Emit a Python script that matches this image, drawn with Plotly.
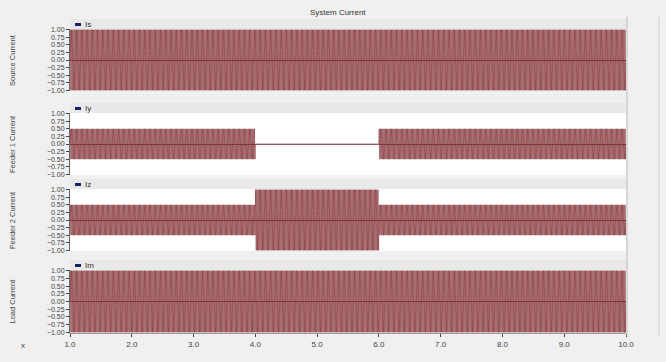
import numpy as np
import plotly.graph_objects as go

# ---- data ----
panel_names = ["Source Current", "Feeder 1 Current", "Feeder 2 Current", "Load Current"]
legend_names = ["Is", "Iy", "Iz", "Im"]
time_breaks = [1.0, 4.0, 6.0, 10.0]          # s, segment boundaries
source_amp = [1.0, 1.0, 1.0]                 # peak per segment
feeder1_amp = [0.5, 0.0, 0.5]
feeder2_amp = [0.5, 1.0, 0.5]
load_amp = [1.0, 1.0, 1.0]
freq_hz = 50.0
sample_step = 0.001
x_ticks = [1.0, 2.0, 3.0, 4.0, 5.0, 6.0, 7.0, 8.0, 9.0, 10.0]
y_ticks = [1.0, 0.75, 0.5, 0.25, 0.0, -0.25, -0.5, -0.75, -1.0]

amps = [source_amp, feeder1_amp, feeder2_amp, load_amp]

t = np.arange(time_breaks[0], time_breaks[-1] + 1e-9, sample_step)
seg = np.clip(np.searchsorted(time_breaks, t, side="right") - 1, 0, len(time_breaks) - 2)
carrier = np.sin(2 * np.pi * freq_hz * t)

W, H = 666, 362
px_x0, px_x1 = 70, 626
panel_px = [(29, 91), (113, 175), (189, 251), (270, 333)]

fig = go.Figure()
shapes = []
annotations = []
for i, (name, lg, a) in enumerate(zip(panel_names, legend_names, amps)):
    y = carrier * np.array(a)[seg]
    ax = "" if i == 0 else str(i + 1)
    fig.add_trace(go.Scatter(
        x=t, y=y, mode="lines",
        line=dict(color="rgba(110,15,22,0.88)", width=0.6),
        xaxis="x" + ax, yaxis="y" + ax, showlegend=False, hoverinfo="skip",
    ))
    top, bot = panel_px[i]
    dom = [1 - bot / H, 1 - top / H]
    fig.layout["yaxis" + ax] = dict(
        domain=dom, range=[-1.02, 1.02], anchor="x" + ax, automargin=False,
        tickvals=y_ticks, tickformat=".2f", ticks="outside", ticklen=3,
        tickfont=dict(size=7, color="#444", family="Arial"),
        showgrid=False, zeroline=True, zerolinecolor="rgba(90,40,40,0.6)", zerolinewidth=0.8,
        showline=True, linecolor="#666", linewidth=1,
    )
    fig.layout["xaxis" + ax] = dict(
        domain=[px_x0 / W, px_x1 / W], range=[1.0, 10.0], anchor="y" + ax, automargin=False,
        tickvals=x_ticks, tickformat=".1f",
        showticklabels=(i == 3), ticks="outside" if i == 3 else "", ticklen=3,
        tickfont=dict(size=8, color="#444", family="Arial"),
        showgrid=False, zeroline=False, showline=(i == 3), linecolor="#999",
    )
    # header strip with legend entry
    shapes.append(dict(type="rect", xref="paper", yref="paper",
                       x0=px_x0 / W, x1=627 / W, y0=1 - top / H, y1=1 - (top - 10) / H,
                       fillcolor="#e9e9e9", line=dict(width=0), layer="below"))
    shapes.append(dict(type="rect", xref="paper", yref="paper",
                       x0=75 / W, x1=81 / W, y0=1 - (top - 3) / H, y1=1 - (top - 6) / H,
                       fillcolor="#1a1f6b", line=dict(width=0)))
    annotations.append(dict(text=lg, xref="paper", yref="paper",
                            x=83 / W, y=1 - (top - 4.5) / H, xanchor="left", yanchor="middle",
                            showarrow=False, font=dict(size=8, color="#333", family="Arial")))
    annotations.append(dict(text=name, xref="paper", yref="paper", textangle=-90,
                            x=12 / W, y=1 - ((top + bot) / 2) / H, xanchor="center", yanchor="middle",
                            showarrow=False, font=dict(size=7.5, color="#444", family="Arial")))

# right frame lines
shapes.append(dict(type="line", xref="paper", yref="paper", x0=627 / W, x1=627 / W,
                   y0=1 - 336 / H, y1=1 - 17 / H, line=dict(color="#bbb", width=1)))
shapes.append(dict(type="line", xref="paper", yref="paper", x0=659 / W, x1=659 / W,
                   y0=1 - 336 / H, y1=1 - 17 / H, line=dict(color="#ccc", width=1)))

annotations.append(dict(text="System Current", xref="paper", yref="paper",
                        x=338 / W, y=1 - 12 / H, xanchor="center", yanchor="middle",
                        showarrow=False, font=dict(size=8, color="#333", family="Arial")))
annotations.append(dict(text="x", xref="paper", yref="paper",
                        x=23 / W, y=1 - 345 / H, xanchor="center", yanchor="middle",
                        showarrow=False, font=dict(size=8, color="#444", family="Arial")))

fig.update_layout(
    width=W, height=H, margin=dict(l=0, r=0, t=0, b=0),
    paper_bgcolor="#f0f0f0", plot_bgcolor="#ffffff",
    shapes=shapes, annotations=annotations,
)
fig.write_html(
    "out.html",
    config={"displayModeBar": False},
    post_script="document.body.style.margin='0';document.body.style.background='#f0f0f0';",
)
